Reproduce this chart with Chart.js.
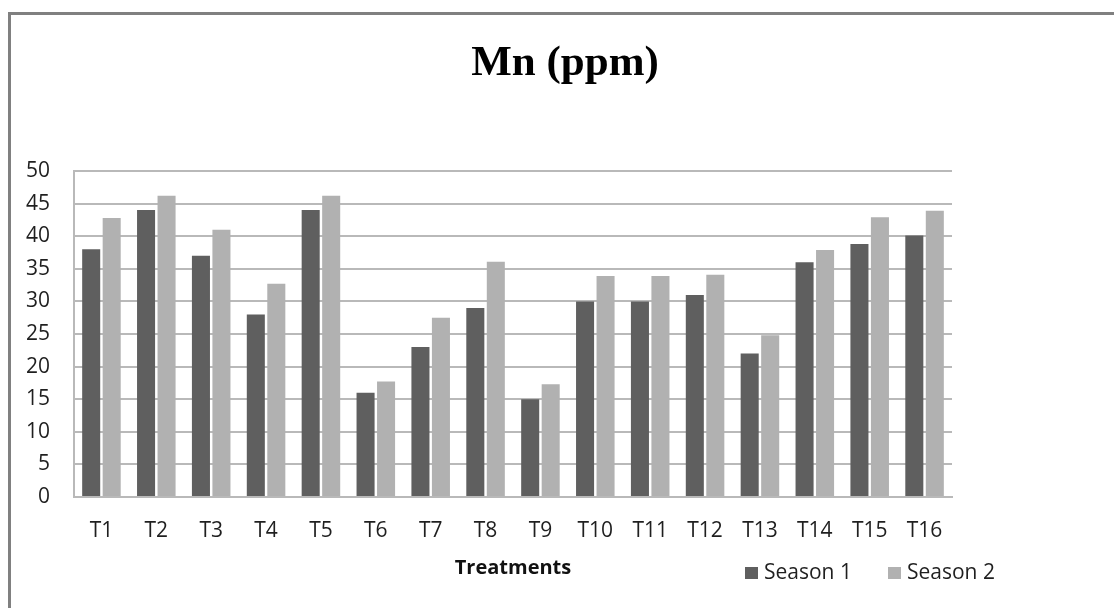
<!DOCTYPE html>
<html>
<head>
<meta charset="utf-8">
<script src="https://cdn.jsdelivr.net/npm/chart.js@4"></script>
<style>
  html, body { margin: 0; padding: 0; background: #fff; overflow: hidden; }
  #frame {
    position: absolute; left: 8px; top: 12px; width: 1200px; height: 700px;
    border-top: 3px solid #808080; border-left: 3px solid #808080;
  }
  #wrap { position: absolute; left: 0; top: 0; width: 1114px; height: 608px; }
</style>
</head>
<body>
<div id="frame"></div>
<div id="wrap"><canvas id="chart" width="1114" height="608"></canvas></div>
<script>
// Mn (ppm) per treatment, two seasons
const TITLE = 'Mn (ppm)';
const categories = ['T1', 'T2', 'T3', 'T4', 'T5', 'T6', 'T7', 'T8', 'T9', 'T10', 'T11', 'T12', 'T13', 'T14', 'T15', 'T16'];
const season1 = [38, 44, 37, 28, 44, 16, 23, 29, 15, 30, 30, 31, 22, 36, 38.8, 40.1];
const season2 = [42.8, 46.2, 41, 32.7, 46.2, 17.7, 27.5, 36.1, 17.3, 33.9, 33.9, 34.1, 24.8, 37.9, 42.9, 43.9];
const seriesNames = ['Season 1', 'Season 2'];
const seriesColors = ['#5f5f5f', '#b1b1b1'];

const TEXT = '#1f1f1f';
const GRID = '#b9b9b9';

// title and legend sit off-centre in the original, so draw them by hand
const decor = {
  id: 'decor',
  afterDraw(chart) {
    const { ctx } = chart;
    ctx.save();
    ctx.fillStyle = '#000';
    ctx.font = 'bold 43px "Liberation Serif", "Times New Roman", serif';
    ctx.textAlign = 'center';
    ctx.textBaseline = 'alphabetic';
    ctx.fillText(TITLE, 565, 75);

    ctx.font = '21px "Open Sans", sans-serif';
    ctx.textAlign = 'left';
    ctx.textBaseline = 'middle';
    const xs = [745, 888];
    chart.data.datasets.forEach((ds, i) => {
      ctx.fillStyle = ds.backgroundColor;
      ctx.fillRect(xs[i], 567, 13, 12);
      ctx.fillStyle = TEXT;
      ctx.fillText(ds.label, xs[i] + 19, 573);
    });
    ctx.restore();
  },
};

new Chart(document.getElementById('chart'), {
  type: 'bar',
  data: {
    labels: categories,
    datasets: [
      { label: seriesNames[0], data: season1, backgroundColor: seriesColors[0] },
      { label: seriesNames[1], data: season2, backgroundColor: seriesColors[1] },
    ],
  },
  options: {
    responsive: false,
    animation: false,
    layout: { padding: { top: 171, left: 0, right: 162, bottom: 28 } },
    datasets: {
      bar: { categoryPercentage: 0.747, barPercentage: 0.88 },
    },
    plugins: {
      legend: { display: false },
      title: { display: false },
      tooltip: { enabled: false },
    },
    scales: {
      x: {
        afterFit(scale) { scale.height = 83; },
        grid: { display: false, drawTicks: false },
        border: { display: true, color: GRID, width: 2 },
        ticks: { color: TEXT, padding: 21, font: { family: '"Open Sans", sans-serif', size: 21 } },
        title: {
          display: true,
          text: 'Treatments',
          color: '#111',
          padding: { top: 0, bottom: 0 },
          font: { family: '"Open Sans", sans-serif', size: 20, weight: 'bold' },
        },
      },
      y: {
        min: 0,
        max: 50,
        afterFit(scale) { scale.width = 74; },
        grid: { color: GRID, lineWidth: 2, drawTicks: false },
        border: { display: true, color: GRID, width: 2 },
        ticks: { stepSize: 5, color: TEXT, padding: 24, font: { family: '"Open Sans", sans-serif', size: 21 } },
      },
    },
  },
  plugins: [decor],
});
</script>
</body>
</html>
